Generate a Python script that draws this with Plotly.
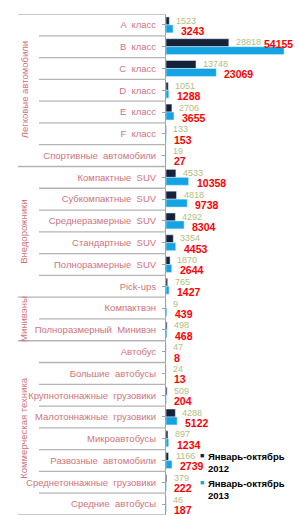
import plotly.graph_objects as go

categories = ["A класс", "B класс", "C класс", "D класс", "E класс", "F класс",
              "Спортивные автомобили", "Компактные SUV", "Субкомпактные SUV",
              "Среднеразмерные SUV", "Стандартные SUV", "Полноразмерные SUV",
              "Pick-ups", "Компактвэн", "Полноразмерный Минивэн", "Автобус",
              "Большие автобусы", "Крупнотоннажные грузовики", "Малотоннажные грузовики",
              "Микроавтобусы", "Развозные автомобили", "Среднетоннажные грузовики",
              "Средние автобусы"]
values_2012 = [1523, 28818, 13748, 1051, 2706, 133, 19, 4533, 4818, 4292, 3354, 1870,
               765, 9, 498, 47, 24, 509, 4288, 897, 1166, 379, 46]
values_2013 = [3243, 54155, 23069, 1288, 3655, 153, 27, 10358, 9738, 8304, 4453, 2644,
               1427, 439, 468, 8, 13, 204, 5122, 1234, 2739, 222, 187]
groups = [("Легковые автомобили", 0, 6), ("Внедорожники", 7, 12),
          ("Минивэны", 13, 14), ("Коммерческая техника", 15, 22)]
series_names = ["Январь-октябрь<br>2012", "Январь-октябрь<br>2013"]

W, H = 299, 515
L, R, T, B = 166, 0, 14, 0
PW = W - L - R
XMAX = 61000

C_DARK = "#16223a"
C_BLUE = "#14a4e4"
C_OLIVE = "#b4bd80"
C_RED = "#ff0000"
C_CAT = "#d2737a"
C_GRID = "#b4b4b4"
NARROW = "Liberation Sans Narrow, Arial Narrow, Liberation Sans, Arial"
SANS = "Liberation Sans, Arial"

def px(xp):
    return (xp - L) / PW

idx = list(range(len(categories)))
tick_text = [c.replace(" ", " \u00a0") for c in categories]

fig = go.Figure()
fig.add_trace(go.Bar(y=idx, x=values_2012, orientation="h", marker_color=C_DARK,
                     showlegend=False, hoverinfo="skip"))
fig.add_trace(go.Bar(y=idx, x=values_2013, orientation="h", marker_color=C_BLUE,
                     showlegend=False, hoverinfo="skip"))

annotations = []
for i, (a, b) in enumerate(zip(values_2012, values_2013)):
    annotations.append(dict(x=a, y=i - 0.2, xref="x", yref="y", text=str(a),
                            showarrow=False, xanchor="left", xshift=5,
                            font=dict(family=NARROW, size=9, color=C_OLIVE)))
    bar_end_px = b / XMAX * PW
    if bar_end_px + 32 > PW:
        annotations.append(dict(x=b, y=i + 0.2, xref="x", yref="y", text="<b>%d</b>" % b,
                                showarrow=False, xanchor="center", yshift=7, xshift=-6,
                                font=dict(family=NARROW, size=10.5, color=C_RED)))
    else:
        annotations.append(dict(x=b, y=i + 0.27, xref="x", yref="y", text="<b>%d</b>" % b,
                                showarrow=False, xanchor="left", xshift=6,
                                font=dict(family=NARROW, size=10.5, color=C_RED)))

shapes = []
group_bounds = set()
for name, s, e in groups:
    group_bounds.add(s - 0.5)
    group_bounds.add(e + 0.5)
    annotations.append(dict(x=px(24), y=(s + e) / 2, xref="paper", yref="y", text=name,
                            showarrow=False, textangle=-90, xanchor="center", yanchor="middle",
                            font=dict(family=SANS, size=9.5, color=C_CAT)))
for i in range(len(categories) + 1):
    yb = i - 0.5
    x0 = px(18) if yb in group_bounds else px(39)
    shapes.append(dict(type="line", xref="paper", yref="y", x0=x0, x1=0, y0=yb, y1=yb,
                       line=dict(color=C_GRID, width=1.3)))

# legend
for k, (nm, col) in enumerate(zip(series_names, [C_DARK, C_BLUE])):
    ypx = 455 + k * 27
    annotations.append(dict(x=px(202), y=1 - (ypx - T) / (H - T - B), xref="paper", yref="paper",
                            text="■", showarrow=False, xanchor="center", yanchor="middle",
                            font=dict(family=SANS, size=7, color=col)))
    annotations.append(dict(x=px(206), y=1 - (ypx - 6 - T) / (H - T - B), xref="paper", yref="paper",
                            text="<b>%s</b>" % nm, showarrow=False, xanchor="left", yanchor="top",
                            align="left",
                            font=dict(family=NARROW, size=9.5, color="#000000")))

fig.update_layout(
    width=W, height=H,
    margin=dict(l=L, r=R, t=T, b=B, pad=0),
    paper_bgcolor="white", plot_bgcolor="white",
    barmode="group", bargap=0.27, bargroupgap=0,
    xaxis=dict(range=[0, XMAX], visible=False, fixedrange=True),
    yaxis=dict(range=[len(categories) - 0.5, -0.5], tickmode="array", tickvals=idx,
               ticktext=tick_text, showline=True, linecolor="#a0a0a0", linewidth=1,
               ticks="outside", ticklen=3, tickcolor="#a0a0a0", showgrid=False,
               zeroline=False, ticklabelstandoff=4,
               tickfont=dict(family=SANS, size=9.5, color=C_CAT)),
    annotations=annotations, shapes=shapes, showlegend=False,
)

fig.write_html("out.html")
